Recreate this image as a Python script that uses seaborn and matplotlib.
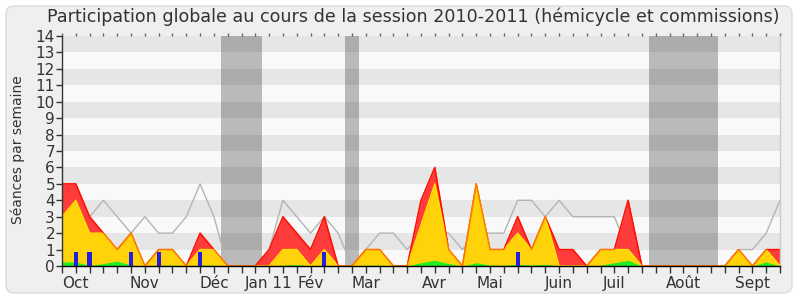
import matplotlib
matplotlib.use("Agg")
import matplotlib.pyplot as plt
import matplotlib.transforms as mtransforms
from matplotlib.patches import FancyBboxPatch
import seaborn as sns

# ---- data (weekly values, session 2010-2011) ----
weeks = list(range(53))
red_total = [5, 5, 3, 2, 1, 2, 0, 1, 1, 0, 2, 1, 0, 0, 0, 1, 3, 2, 1, 3,
             0, 0, 1, 1, 0, 0, 4, 6, 1, 0, 5, 1, 1, 3, 1, 3, 1, 1, 0, 1,
             1, 4, 0, 0, 0, 0, 0, 0, 0, 1, 0, 1, 1]
yellow_vals = [3, 4, 2, 2, 1, 2, 0, 1, 1, 0, 1, 1, 0, 0, 0, 0, 1, 1, 0, 1,
               0, 0, 1, 1, 0, 0, 2.5, 5, 1, 0, 5, 1, 1, 2, 1, 3, 0, 0, 0, 1,
               1, 1, 0, 0, 0, 0, 0, 0, 0, 1, 0, 1, 0]
green_vals = [0.25, 0.25, 0.03, 0.15, 0.3, 0.05, 0, 0.05, 0.05, 0, 0.05, 0.05, 0, 0, 0, 0,
              0.05, 0.08, 0, 0.05, 0, 0, 0.05, 0.05, 0, 0, 0.2, 0.35, 0.15, 0, 0.2, 0.05,
              0.05, 0.1, 0.05, 0.1, 0, 0, 0, 0.05, 0.2, 0.35, 0, 0, 0, 0, 0, 0, 0,
              0.05, 0, 0.25, 0]
gray_median = [3, 3, 3, 4, 3, 2, 3, 2, 2, 3, 5, 3, 0, 0, 0, 1, 4, 3, 2, 3,
               2, 0, 1, 2, 2, 1, 2, 2, 2, 1, 2, 2, 2, 4, 4, 3, 4, 3, 3, 3,
               3, 1, 0, 0, 0, 0, 0, 0, 0, 1, 1, 2, 4]
blue_weeks = [1, 2, 5, 7, 10, 19, 33]
blue_vals = [0.85, 0.85, 0.85, 0.85, 0.85, 0.85, 0.85]
vacation_start = [11.5, 20.5, 42.5]
vacation_end = [14.5, 21.5, 47.5]
month_weeks = [1, 6, 11, 15, 18, 22, 27, 31, 36, 40, 45, 50]
month_labels = ["Oct", "Nov", "Déc", "Jan 11", "Fév", "Mar", "Avr", "Mai",
                "Juin", "Juil", "Août", "Sept"]
y_ticks = list(range(15))

sns.set_style("white")
plt.rcParams['font.family'] = ['DejaVu Sans']
txt = '#333333'

fig = plt.figure(figsize=(8, 3), dpi=100)
fig.patch.set_facecolor('white')
frame = FancyBboxPatch((6, 7), 786, 287, boxstyle="round,pad=0,rounding_size=8",
                       transform=mtransforms.IdentityTransform(),
                       facecolor='#efefef', edgecolor='#dcdcdc', lw=1, zorder=-10)
fig.patches.append(frame)

ax = fig.add_axes([62 / 800, 34 / 300, 718 / 800, 230 / 300])
ax.set_facecolor('#f9f9f9')
for k in range(1, 14, 2):
    ax.axhspan(k, k + 1, color='#e6e6e6', lw=0, zorder=0)
for a, b in zip(vacation_start, vacation_end):
    ax.axvspan(a, b, color='black', alpha=0.25, lw=0, zorder=1)

sns.lineplot(x=weeks, y=gray_median, color='#b4b4b4', lw=1, ax=ax, zorder=2)

ax.fill_between(weeks, 0, red_total, color='#ff3c3c', lw=0, zorder=3)
ax.plot(weeks, red_total, color='#ff0000', lw=1, zorder=3.1)
ax.fill_between(weeks, 0, yellow_vals, color='#ffd20a', lw=0, zorder=4)
ax.plot(weeks, yellow_vals, color='#ffe600', lw=1, zorder=4.1)
ax.plot(weeks, red_total, color='#ff2000', lw=1, alpha=0.55, zorder=4.2)
ax.fill_between(weeks, 0, green_vals, color='#22ee22', lw=0, zorder=5)
ax.bar(blue_weeks, blue_vals, width=0.31, color='#2020dd', edgecolor='none',
       linewidth=0, zorder=6)

ax.set_xlim(0, 52)
ax.set_ylim(0, 14)
labels = [''] * len(weeks)
for w, l in zip(month_weeks, month_labels):
    labels[w] = l
ax.set_xticks(weeks)
ax.set_xticklabels(labels, fontsize=11, color=txt)
ax.set_yticks(y_ticks)
ax.set_yticklabels([str(v) for v in y_ticks], fontsize=11, color=txt)
ax.tick_params(axis='x', length=5, width=1, color='#333333', pad=2)
ax.tick_params(axis='y', length=4, width=1, color='#333333', pad=1)
ax.tick_params(bottom=True, left=True)

sec = ax.secondary_xaxis('top')
sec.set_xticks(weeks)
sec.tick_params(length=2, width=1, color='#666666', labeltop=False)
sec.spines['top'].set_visible(False)

ax.spines['top'].set_visible(False)
ax.spines['right'].set_color('#cccccc')
ax.spines['left'].set_color('#333333')
ax.spines['bottom'].set_color('#000000')
for s in ax.spines.values():
    s.set_zorder(10)
    s.set_linewidth(1)

fig.text(413 / 800, 1 - 17 / 300,
         "Participation globale au cours de la session 2010-2011 (hémicycle et commissions)",
         ha='center', va='center', fontsize=12.6, color=txt)
fig.text(18 / 800, 1 - 150 / 300, "Séances par semaine", rotation=90,
         ha='center', va='center', fontsize=10, color=txt)

fig.savefig('out.png', dpi=100)
